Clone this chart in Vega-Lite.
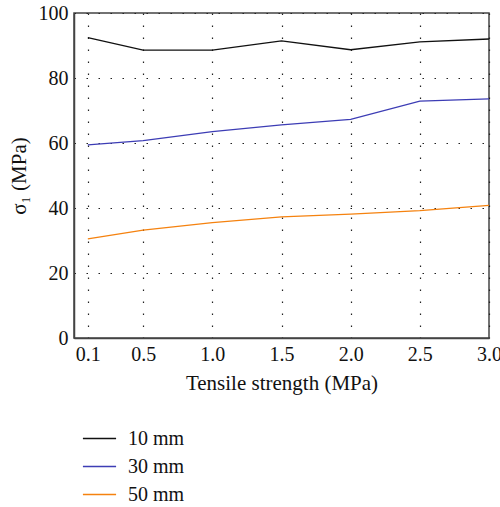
{
  "$schema": "https://vega.github.io/schema/vega-lite/v6.json",
  "autosize": "none",
  "width": 415,
  "height": 325,
  "padding": {"left": 74, "top": 13, "right": 11, "bottom": 169},
  "background": "white",
  "config": {
    "font": "Liberation Serif",
    "view": {"stroke": "#444", "strokeWidth": 1.5},
    "axis": {
      "labelFont": "Liberation Serif",
      "titleFont": "Liberation Serif",
      "labelFontSize": 20,
      "titleFontSize": 21,
      "labelColor": "#111",
      "titleColor": "#111",
      "titleFontWeight": "normal",
      "domainColor": "#444",
      "domainWidth": 1.5,
      "ticks": false,
      "gridColor": "#222",
      "gridDash": [1.5, 10.5],
      "gridWidth": 1.2,
      "gridOpacity": 1
    },
    "legend": {
      "labelFont": "Liberation Serif",
      "labelFontSize": 20,
      "labelColor": "#111"
    }
  },
  "data": {
    "values": [
      {"ts": 0.1, "sigma": 92.4, "series": "10 mm"},
      {"ts": 0.5, "sigma": 88.6, "series": "10 mm"},
      {"ts": 1.0, "sigma": 88.6, "series": "10 mm"},
      {"ts": 1.5, "sigma": 91.4, "series": "10 mm"},
      {"ts": 2.0, "sigma": 88.7, "series": "10 mm"},
      {"ts": 2.5, "sigma": 91.1, "series": "10 mm"},
      {"ts": 3.0, "sigma": 92.0, "series": "10 mm"},
      {"ts": 0.1, "sigma": 59.4, "series": "30 mm"},
      {"ts": 0.5, "sigma": 60.7, "series": "30 mm"},
      {"ts": 1.0, "sigma": 63.5, "series": "30 mm"},
      {"ts": 1.5, "sigma": 65.6, "series": "30 mm"},
      {"ts": 2.0, "sigma": 67.3, "series": "30 mm"},
      {"ts": 2.5, "sigma": 72.9, "series": "30 mm"},
      {"ts": 3.0, "sigma": 73.6, "series": "30 mm"},
      {"ts": 0.1, "sigma": 30.5, "series": "50 mm"},
      {"ts": 0.5, "sigma": 33.2, "series": "50 mm"},
      {"ts": 1.0, "sigma": 35.5, "series": "50 mm"},
      {"ts": 1.5, "sigma": 37.3, "series": "50 mm"},
      {"ts": 2.0, "sigma": 38.1, "series": "50 mm"},
      {"ts": 2.5, "sigma": 39.2, "series": "50 mm"},
      {"ts": 3.0, "sigma": 40.8, "series": "50 mm"}
    ]
  },
  "mark": {"type": "line", "strokeWidth": 1.3},
  "encoding": {
    "x": {
      "field": "ts",
      "type": "quantitative",
      "scale": {"domain": [0, 3], "nice": false, "zero": false},
      "axis": {
        "values": [0.1, 0.5, 1.0, 1.5, 2.0, 2.5, 3.0],
        "format": ".1f",
        "title": "Tensile strength (MPa)",
        "labelPadding": 6,
        "titlePadding": 8,
        "labelFlush": false
      }
    },
    "y": {
      "field": "sigma",
      "type": "quantitative",
      "scale": {"domain": [0, 100], "nice": false},
      "axis": {
        "values": [0, 20, 40, 60, 80, 100],
        "title": "σ₁ (MPa)",
        "labelPadding": 6,
        "titlePadding": 9,
        "labelFlush": false
      }
    },
    "color": {
      "field": "series",
      "type": "nominal",
      "scale": {"domain": ["10 mm", "30 mm", "50 mm"], "range": ["#111111", "#3d3db5", "#f5820f"]},
      "legend": {
        "title": null,
        "orient": "none",
        "legendX": 8,
        "legendY": 408,
        "direction": "vertical",
        "symbolType": "stroke",
        "symbolSize": 1100,
        "symbolStrokeWidth": 1.3,
        "labelOffset": 11,
        "rowPadding": -4
      }
    }
  }
}
